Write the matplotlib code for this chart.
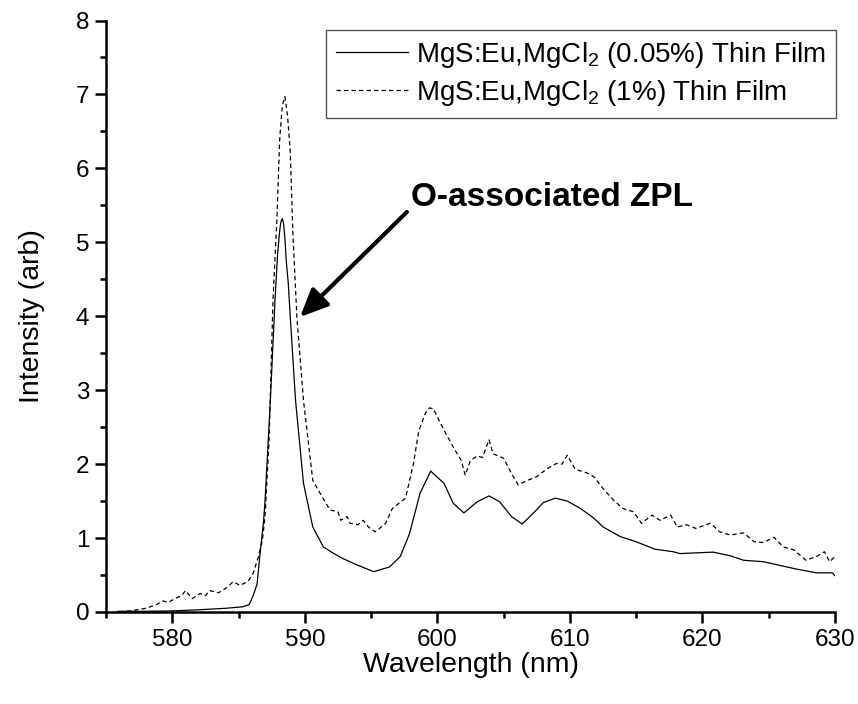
import matplotlib
matplotlib.use("Agg")
import matplotlib.pyplot as plt
from matplotlib.ticker import MultipleLocator

plt.rcParams['font.family'] = ['Liberation Sans', 'DejaVu Sans']
plt.rcParams['mathtext.fontset'] = 'custom'
plt.rcParams['mathtext.rm'] = 'Liberation Sans'
plt.rcParams['mathtext.it'] = 'Liberation Sans:italic'
plt.rcParams['mathtext.bf'] = 'Liberation Sans:bold'

# ---- data ----
solid_x = [575.9, 578.0, 580.0, 582.0, 584.0, 585.3, 585.8, 586.1, 586.4, 586.6,
           586.9, 587.0, 587.4, 587.75, 587.95, 588.1, 588.2, 588.3, 588.4, 588.5,
           588.6, 588.75, 588.9,
           589.3, 589.9, 590.6, 591.4, 592.2, 592.9, 593.9, 595.2, 596.4, 597.2,
           597.9, 598.7, 599.5, 600.5, 601.2, 602.0, 603.0, 603.9, 604.7, 605.6,
           606.4, 607.2, 608.0, 608.9, 609.8, 610.8, 611.8, 612.5, 613.8, 615.0,
           616.4, 617.8, 618.3, 620.8, 622.1, 623.1, 624.6, 625.1, 627.1, 628.6,
           629.8, 630.0]
solid_y = [0.01, 0.01, 0.015, 0.03, 0.05, 0.07, 0.10, 0.22, 0.38, 0.75,
           1.25, 1.51, 2.86, 4.22, 4.85, 5.15, 5.28, 5.32, 5.25, 5.05,
           4.75, 4.45, 4.0,
           2.86, 1.74, 1.15, 0.88, 0.79, 0.72, 0.64, 0.545, 0.61, 0.75,
           1.06, 1.61, 1.905, 1.74, 1.47, 1.34, 1.49, 1.57, 1.49, 1.29,
           1.19, 1.33, 1.48, 1.54, 1.50, 1.40, 1.27, 1.15, 1.02, 0.95,
           0.85, 0.815, 0.79, 0.81, 0.76, 0.70, 0.68, 0.66, 0.58, 0.53,
           0.53, 0.49]

dashed_x = [576.0, 577.0, 578.0, 578.8, 579.3, 579.7, 580.3, 580.7, 581.0, 581.5,
            582.1, 582.5, 582.8, 583.5, 584.1, 584.6, 585.1, 585.7, 586.1, 586.5,
            586.8, 587.0, 587.3, 587.6, 587.9, 588.1, 588.3, 588.5, 588.7, 588.9,
            589.1, 589.4, 589.9, 590.6, 591.3, 591.9, 592.5, 592.7, 593.2, 593.4,
            594.0, 594.4, 594.8, 595.3, 595.7, 596.1, 596.6, 597.1, 597.6, 598.2,
            598.6, 599.1, 599.4, 599.7, 600.1, 600.5, 601.2, 601.8, 602.1, 602.5,
            603.0, 603.4, 603.9, 604.2, 605.0, 605.6, 606.1, 606.8, 607.5, 608.3,
            609.0, 609.4, 609.8, 610.4, 611.3, 611.8, 612.5, 613.3, 614.0, 614.8,
            615.4, 616.2, 616.8, 617.6, 618.1, 618.8, 619.5, 620.6, 621.3, 622.1,
            623.1, 623.9, 624.6, 625.4, 626.1, 626.9, 627.8, 628.6, 629.2, 629.6,
            630.0]
dashed_y = [0.0, 0.02, 0.05, 0.10, 0.15, 0.13, 0.19, 0.22, 0.29, 0.18,
            0.25, 0.22, 0.29, 0.26, 0.33, 0.41, 0.36, 0.41, 0.52, 0.75,
            0.97, 1.30, 2.30, 4.22, 5.34, 6.38, 6.85, 6.97, 6.70, 6.24,
            5.12, 3.99, 2.86, 1.78, 1.56, 1.38, 1.355, 1.24, 1.29, 1.20,
            1.18, 1.24, 1.15, 1.085, 1.14, 1.20, 1.40, 1.47, 1.54, 2.01,
            2.45, 2.69, 2.76, 2.75, 2.60, 2.46, 2.23, 2.05, 1.85, 2.05,
            2.11, 2.09, 2.33, 2.14, 2.08, 1.87, 1.72, 1.78, 1.83, 1.94,
            2.01, 2.00, 2.12, 1.93, 1.88, 1.83, 1.67, 1.51, 1.40, 1.355,
            1.20, 1.31, 1.24, 1.31, 1.15, 1.18, 1.13, 1.20, 1.085, 1.04,
            1.07, 0.95, 0.94, 1.01, 0.88, 0.84, 0.70, 0.75, 0.815, 0.68,
            0.75]

labels = ['MgS:Eu,MgCl$_\\mathrm{2}$ (0.05%) Thin Film',
          'MgS:Eu,MgCl$_\\mathrm{2}$ (1%) Thin Film']
x_label = 'Wavelength (nm)'
y_label = 'Intensity (arb)'
annot_text = 'O-associated ZPL'
annot_tip = (589.64, 3.99)
annot_tail = (597.7, 5.41)
annot_text_pos = (597.98, 5.61)

# ---- figure ----
W, H = 858, 704
fig = plt.figure(figsize=(W / 100, H / 100), dpi=100)
ax = fig.add_axes([106 / W, 1 - 612 / H, (835 - 106) / W, (612 - 20.5) / H])

ax.plot(solid_x, solid_y, color='black', lw=0.9, label=labels[0])
ax.plot(dashed_x, dashed_y, color='black', lw=0.9, linestyle=(0, (3.5, 2.5)),
        label=labels[1])

ax.set_xlim(575, 630)
ax.set_ylim(0, 8)
ax.xaxis.set_major_locator(MultipleLocator(10))
ax.xaxis.set_minor_locator(MultipleLocator(5))
ax.yaxis.set_major_locator(MultipleLocator(1))
ax.yaxis.set_minor_locator(MultipleLocator(0.5))

for s in ['top', 'right']:
    ax.spines[s].set_visible(False)
for s in ['left', 'bottom']:
    ax.spines[s].set_linewidth(1.8)
ax.tick_params(which='major', direction='out', length=8, width=1.8,
               labelsize=17.5, pad=4)
ax.tick_params(which='minor', direction='out', length=4.5, width=1.8)

ax.set_xlabel(x_label, fontsize=20.5, labelpad=1)
ax.set_ylabel(y_label, fontsize=20.5, labelpad=22)

leg = ax.legend(loc='upper right', bbox_to_anchor=(836 / W, 1 - 30 / H),
                bbox_transform=fig.transFigure, borderaxespad=0,
                fontsize=20, handlelength=2.6, handletextpad=0.3,
                borderpad=0.35, labelspacing=0.3, fancybox=False,
                framealpha=1, edgecolor='#555555')
leg.get_frame().set_linewidth(1.0)

ax.annotate('', xy=annot_tip, xytext=annot_tail,
            arrowprops=dict(arrowstyle='-|>,head_length=0.85,head_width=0.38',
                            lw=3, color='black', mutation_scale=20,
                            shrinkA=0, shrinkB=0))
ax.text(annot_text_pos[0], annot_text_pos[1], annot_text, fontsize=24,
        fontweight='bold', ha='left', va='center')

fig.savefig('out.png', dpi=100)
